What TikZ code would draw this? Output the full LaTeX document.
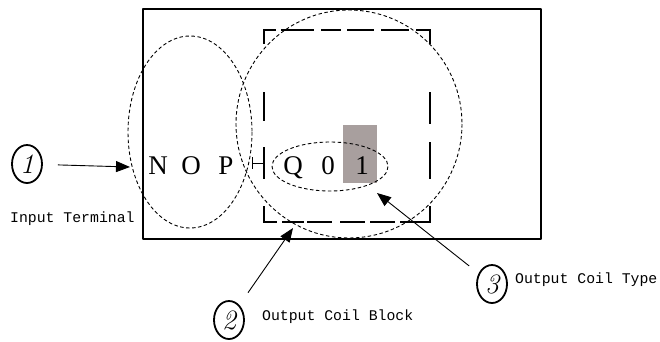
\documentclass[tikz,border=0pt]{standalone}
\usepackage{fontspec}
\setmonofont{Liberation Mono}
\newfontfamily\glyphfont{Liberation Serif}
\usetikzlibrary{arrows.meta,shapes.geometric}

\begin{document}
\begin{tikzpicture}[x=1pt, y=-1pt, line join=round]
\definecolor{lbgray}{HTML}{A89F9E}
\tikzset{
  ring/.style={dash pattern=on 3.5pt off 2.5pt, line width=0.9pt},
  coilside/.style={line width=2.6pt, line cap=rect},
  numring/.style={ellipse, draw, line width=1.8pt, minimum width=30pt, minimum height=38pt, inner sep=0pt, font=\fontsize{28}{28}\selectfont\itshape},
  callout/.style={-{Triangle[length=14pt,width=11pt]}, line width=0.9pt},
  tag/.style={font=\fontsize{14.8}{16}\selectfont\ttfamily, inner sep=0pt, anchor=base west},
  glyph/.style={font=\fontsize{27}{27}\glyphfont, inner sep=0pt, anchor=base}
}
\useasboundingbox (0,0) rectangle (660,341);
% ---- instruction frame ----
\draw[line width=2.2pt] (143,9) rectangle (541,239);
% ---- output coil block (broken square) ----
\draw[coilside, dash pattern=on 13pt off 50pt on 27pt off 28pt on 30pt off 29pt on 15pt off 20pt] (264,30) -- (264,222);
\draw[coilside, dash pattern=on 13pt off 50pt on 30pt off 20pt on 35pt off 29pt on 15pt off 20pt] (430,30) -- (430,222);
\draw[coilside, dash pattern=on 11pt off 7pt on 31pt off 9pt on 18pt off 8pt on 25pt off 9pt on 26pt off 9pt on 13pt off 20pt] (264,30) -- (430,30);
\draw[coilside, dash pattern=on 12pt off 7pt on 20pt off 5pt on 23pt off 10pt on 23pt off 7pt on 23pt off 7pt on 29pt off 20pt] (264,222) -- (430,222);
% ---- coil type highlight ----
\fill[lbgray] (343,125) rectangle (377,183);
% ---- instruction letters ----
\foreach \x/\ch/\nm in {158/N/lN, 191/O/lO, 226/P/lP, 293/Q/lQ, 328/0/lzero, 362/1/lone}
  \node[glyph] (\nm) at (\x,174) {\ch};
\draw[line width=1pt] (252,157) -- (252,169) (252,163) -- (264,163);
% ---- dashed groupings ----
\draw[ring] (190,132) ellipse [x radius=62, y radius=96];
\draw[ring] (349,124) ellipse [x radius=113, y radius=114];
\draw[ring] (330,166.5) ellipse [x radius=58, y radius=24.5];
% ---- numbered callouts ----
\node[numring] (one) at (27,164) {1};
\node[numring] (two) at (229,320) {2};
\node[numring] (three) at (492,284) {3};
\coordinate (tipone) at (130,167);
\coordinate (tiptwo) at (293,228);
\coordinate (tipthree) at (377,193);
\draw[callout, shorten <=15pt] (one) -- (tipone);
\draw[callout, shorten <=15pt] (two) -- (tiptwo);
\draw[callout, shorten <=12pt] (three) -- (tipthree);
\node[tag] (lbinput) at (10,222) {Input Terminal};
\node[tag] (lbblock) at (262,320) {Output Coil Block};
\node[tag] (lbtype) at (515,283) {Output Coil Type};
\end{tikzpicture}
\end{document}
